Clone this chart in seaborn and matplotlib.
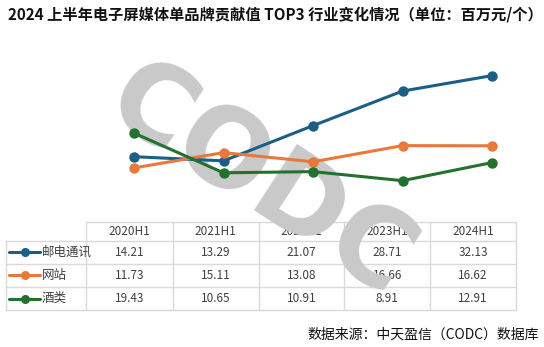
import matplotlib
matplotlib.use("Agg")
import matplotlib.pyplot as plt
import seaborn as sns
import pandas as pd

# Data: brand contribution value of the top-3 industries (million yuan per brand)
periods = ["2020H1", "2021H1", "2022H1", "2023H1", "2024H1"]
industries = ["邮电通讯", "网站", "酒类"]
telecom = [14.21, 13.29, 21.07, 28.71, 32.13]
website = [11.73, 15.11, 13.08, 16.66, 16.62]
liquor = [19.43, 10.65, 10.91, 8.91, 12.91]
colors = ["#1b5e86", "#e8793a", "#23702f"]

series = [telecom, website, liquor]
df = pd.DataFrame({
    "period": periods * 3,
    "x": list(range(len(periods))) * 3,
    "industry": [name for name in industries for _ in periods],
    "value": telecom + website + liquor,
})

sns.set_theme(style="white")
plt.rcParams["font.family"] = ["Noto Sans CJK SC", "DejaVu Sans"]

W, H = 544, 347
fig = plt.figure(figsize=(W / 100, H / 100), dpi=100)

# Background canvas in pixel coordinates for table, watermark and texts
bg = fig.add_axes([0, 0, 1, 1])
bg.set_xlim(0, W)
bg.set_ylim(H, 0)
bg.axis("off")

# Line chart area
px_left, px_right, px_top, px_bottom = 86, 516, 40, 221
ax = fig.add_axes([px_left / W, 1 - px_bottom / H,
                   (px_right - px_left) / W, (px_bottom - px_top) / H])
ax.patch.set_alpha(0)
step = 89.5
x0 = 134
ax.set_xlim((px_left - x0) / step, (px_right - x0) / step)
ax.set_ylim(0, 40)
sns.lineplot(data=df, x="x", y="value", hue="industry", hue_order=industries,
             palette=colors, marker="o", markersize=7.5, markeredgewidth=0,
             linewidth=2.2, legend=False, ax=ax, zorder=5)
ax.axis("off")

# Watermark
bg.text(260, 182, "CODC", fontsize=78, fontweight="bold", color="#c9c9c9",
        rotation=-33, ha="center", va="center", family="DejaVu Sans",
        zorder=3)

# Title
bg.text(8, 14, "2024 上半年电子屏媒体单品牌贡献值 TOP3 行业变化情况（单位：百万元/个）",
        fontsize=10.95, fontweight="bold", color="#111111", ha="left", va="center")

# Data table
grid_c = "#d9d9d9"
txt_c = "#404040"
col_edges = [86, 172.7, 258.5, 344.3, 430, 516]
row_edges = [222, 240.5, 263.5, 287, 310]
label_left = 6

for i, xe in enumerate(col_edges):
    bg.plot([xe, xe], [row_edges[0], row_edges[-1]], color=grid_c, lw=1, zorder=1)
bg.plot([label_left, label_left], [row_edges[1], row_edges[-1]], color=grid_c, lw=1, zorder=1)
bg.plot([col_edges[0], col_edges[-1]], [row_edges[0], row_edges[0]], color=grid_c, lw=1, zorder=1)
for ye in row_edges[1:]:
    bg.plot([label_left, col_edges[-1]], [ye, ye], color=grid_c, lw=1, zorder=1)

for j, p in enumerate(periods):
    cx = (col_edges[j] + col_edges[j + 1]) / 2
    bg.text(cx, (row_edges[0] + row_edges[1]) / 2, p, fontsize=8.5, color=txt_c,
            ha="center", va="center", zorder=2)

for r, (name, vals, c) in enumerate(zip(industries, series, colors)):
    cy = (row_edges[r + 1] + row_edges[r + 2]) / 2
    bg.plot([9, 40], [cy, cy], color=c, lw=2.2, zorder=2)
    bg.plot([24.5], [cy], marker="o", color=c, markersize=6.5, markeredgewidth=0, zorder=2)
    bg.text(42, cy, name, fontsize=9, color=txt_c, ha="left", va="center", zorder=2)
    for j, v in enumerate(vals):
        cx = (col_edges[j] + col_edges[j + 1]) / 2
        bg.text(cx, cy, f"{v:.2f}", fontsize=8.5, color=txt_c,
                ha="center", va="center", zorder=2)

# Source note
bg.text(539, 335, "数据来源：中天盈信（CODC）数据库", fontsize=10, color="#111111",
        ha="right", va="center")

fig.savefig("out.png", dpi=100)
